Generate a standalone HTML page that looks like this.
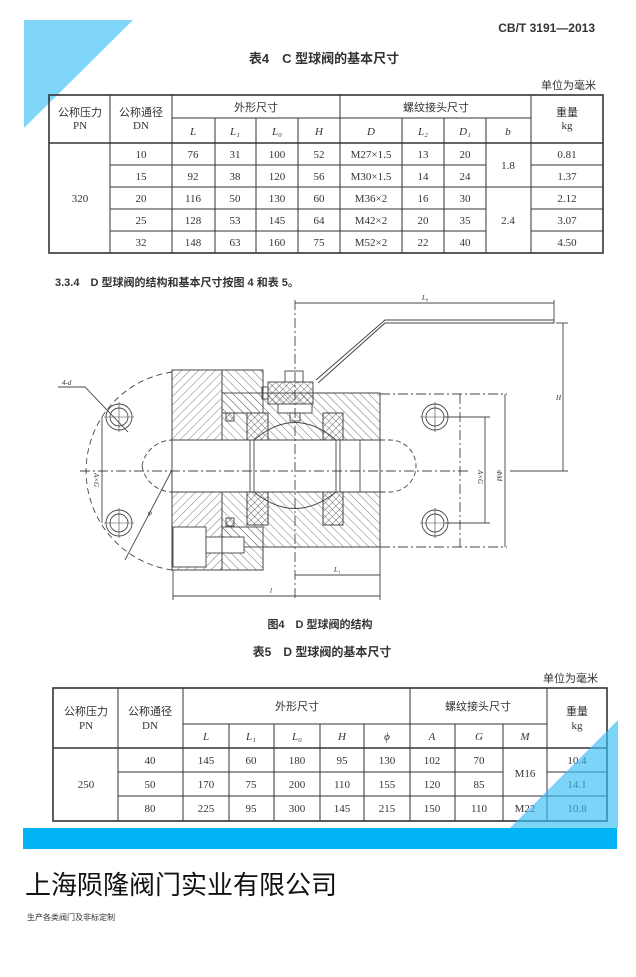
<!DOCTYPE html>
<html><head><meta charset="utf-8"><style>
html,body{margin:0;padding:0;background:#fff;}
svg{display:block}
text{font-family:"Liberation Serif","Noto Serif CJK SC",serif;fill:#333}
.c{font-family:"Liberation Sans","Noto Sans CJK SC",sans-serif}
</style></head><body>
<svg width="636" height="977" viewBox="0 0 636 977" xmlns="http://www.w3.org/2000/svg">
<defs>
<pattern id="h1" width="6" height="6" patternUnits="userSpaceOnUse" patternTransform="rotate(45)"><line x1="0" y1="0" x2="0" y2="6" stroke="#555" stroke-width="0.8"/></pattern>
<pattern id="h2" width="6" height="6" patternUnits="userSpaceOnUse" patternTransform="rotate(-45)"><line x1="0" y1="0" x2="0" y2="6" stroke="#555" stroke-width="0.8"/></pattern>
<pattern id="hx" width="5" height="5" patternUnits="userSpaceOnUse" patternTransform="rotate(45)"><path d="M0 0V5M0 0H5" stroke="#444" stroke-width="0.8"/></pattern>
</defs>
<rect width="636" height="977" fill="#fff"/>
<polygon points="24,20 133,20 24,128" fill="#7fd6f8"/>
<text x="595" y="32" font-size="12" text-anchor="end" class="c" font-weight="bold" fill="#444">CB/T 3191—2013</text>
<text x="324" y="63" font-size="13" text-anchor="middle" class="c" font-weight="bold">表4　C 型球阀的基本尺寸</text>
<text x="596" y="89" font-size="11" text-anchor="end" class="c">单位为毫米</text>
<g stroke="#333" stroke-width="1" fill="none">
<rect x="49" y="95" width="554" height="158" stroke-width="1.6"/>
<line x1="49" y1="143" x2="603" y2="143" stroke-width="1.4"/>
<line x1="172" y1="118" x2="531" y2="118"/>
<line x1="110" y1="95" x2="110" y2="253"/><line x1="172" y1="95" x2="172" y2="253"/>
<line x1="215" y1="118" x2="215" y2="253"/><line x1="256" y1="118" x2="256" y2="253"/><line x1="298" y1="118" x2="298" y2="253"/>
<line x1="340" y1="95" x2="340" y2="253"/><line x1="402" y1="118" x2="402" y2="253"/><line x1="444" y1="118" x2="444" y2="253"/><line x1="486" y1="118" x2="486" y2="253"/><line x1="531" y1="95" x2="531" y2="253"/>
<path d="M110 165H486M531 165H603M110 187H603M110 209H486M531 209H603M110 231H486M531 231H603"/>
</g>
<g font-size="11" text-anchor="middle">
<text x="80" y="116" class="c">公称压力</text><text x="80" y="129">PN</text>
<text x="141" y="116" class="c">公称通径</text><text x="141" y="129">DN</text>
<text x="256" y="111" class="c">外形尺寸</text><text x="436" y="111" class="c">螺纹接头尺寸</text>
<text x="567" y="116" class="c">重量</text><text x="567" y="129">kg</text>
<g font-style="italic"><text x="193" y="135">L</text><text x="235" y="135">L₁</text><text x="277" y="135">L₀</text><text x="319" y="135">H</text><text x="371" y="135">D</text><text x="423" y="135">L₂</text><text x="465" y="135">D₁</text><text x="508" y="135">b</text></g>
<text x="80" y="202">320</text><text x="508" y="169">1.8</text><text x="508" y="224">2.4</text>
<text x="141" y="158">10</text><text x="193" y="158">76</text><text x="235" y="158">31</text><text x="277" y="158">100</text><text x="319" y="158">52</text><text x="371" y="158">M27×1.5</text><text x="423" y="158">13</text><text x="465" y="158">20</text><text x="567" y="158">0.81</text>
<text x="141" y="180">15</text><text x="193" y="180">92</text><text x="235" y="180">38</text><text x="277" y="180">120</text><text x="319" y="180">56</text><text x="371" y="180">M30×1.5</text><text x="423" y="180">14</text><text x="465" y="180">24</text><text x="567" y="180">1.37</text>
<text x="141" y="202">20</text><text x="193" y="202">116</text><text x="235" y="202">50</text><text x="277" y="202">130</text><text x="319" y="202">60</text><text x="371" y="202">M36×2</text><text x="423" y="202">16</text><text x="465" y="202">30</text><text x="567" y="202">2.12</text>
<text x="141" y="224">25</text><text x="193" y="224">128</text><text x="235" y="224">53</text><text x="277" y="224">145</text><text x="319" y="224">64</text><text x="371" y="224">M42×2</text><text x="423" y="224">20</text><text x="465" y="224">35</text><text x="567" y="224">3.07</text>
<text x="141" y="246">32</text><text x="193" y="246">148</text><text x="235" y="246">63</text><text x="277" y="246">160</text><text x="319" y="246">75</text><text x="371" y="246">M52×2</text><text x="423" y="246">22</text><text x="465" y="246">40</text><text x="567" y="246">4.50</text>
</g>
<text x="55" y="286" font-size="11" class="c" font-weight="bold">3.3.4　D 型球阀的结构和基本尺寸按图 4 和表 5。</text>

<!-- drawing -->
<g stroke="#444" fill="none" stroke-width="0.9">
<path d="M172 372 A100 100 0 0 0 172 570" stroke-dasharray="6,4"/>
<rect x="172" y="370" width="50" height="200" fill="url(#h1)"/>
<rect x="222" y="370" width="41" height="43" fill="url(#h2)"/>
<rect x="222" y="393" width="158" height="47" fill="url(#h2)"/>
<rect x="222" y="492" width="158" height="55" fill="url(#h2)"/>
<rect x="222" y="527" width="41" height="43" fill="url(#h2)"/>
<rect x="247" y="413" width="21" height="27" fill="#fff"/><rect x="247" y="413" width="21" height="27" fill="url(#hx)"/>
<rect x="323" y="413" width="20" height="27" fill="#fff"/><rect x="323" y="413" width="20" height="27" fill="url(#hx)"/>
<rect x="247" y="492" width="21" height="33" fill="#fff"/><rect x="247" y="492" width="21" height="33" fill="url(#hx)"/>
<rect x="323" y="492" width="20" height="33" fill="#fff"/><rect x="323" y="492" width="20" height="33" fill="url(#hx)"/>
<rect x="226" y="413" width="8" height="8" fill="url(#hx)"/><rect x="226" y="518" width="8" height="8" fill="url(#hx)"/>
<rect x="172" y="440" width="208" height="52" fill="#fff"/>
<path d="M142 466 A31 31 0 0 1 172 440 M142 466 A31 31 0 0 0 172 492" stroke-dasharray="5,3"/>
<path d="M380 440 H390 A26 26 0 0 1 390 492 H380" stroke-dasharray="5,3"/>
<line x1="172" y1="440" x2="380" y2="440"/><line x1="172" y1="492" x2="380" y2="492"/>
<line x1="250" y1="440" x2="250" y2="492"/><line x1="254" y1="440" x2="254" y2="492"/>
<line x1="336" y1="440" x2="336" y2="492"/><line x1="340" y1="440" x2="340" y2="492"/>
<rect x="173" y="527" width="33" height="40" fill="#fff"/>
<rect x="206" y="537" width="38" height="16" fill="#fff"/>
<path d="M263 393 V370 H172 V570 H263 V547 H380 V393 H313 M222 370 V413 H247 M222 527 V570" stroke-width="1"/>
<rect x="264" y="360" width="48" height="32" fill="#fff" stroke="none"/>
<rect x="285" y="371" width="18" height="11"/>
<rect x="268" y="382" width="45" height="22" fill="url(#hx)"/>
<rect x="262" y="387" width="6" height="12"/>
<rect x="278" y="404" width="34" height="9" fill="#fff"/>
<rect x="290" y="413" width="10" height="8"/>
<path d="M254 440 Q295 405 336 440" />
<path d="M254 492 Q295 525 336 492" />
<path d="M318 383 L385 323 H554 V320 H385 L316 380" stroke-width="1"/>
<line x1="380" y1="394" x2="507" y2="394" stroke-dasharray="10,3,2,3"/>
<line x1="380" y1="547" x2="507" y2="547" stroke-dasharray="10,3,2,3"/>
<line x1="460" y1="394" x2="460" y2="547" stroke-dasharray="10,3,2,3"/>
<line x1="80" y1="471" x2="470" y2="471" stroke-dasharray="10,3,2,3"/>
<line x1="295" y1="300" x2="295" y2="600" stroke-dasharray="10,3,2,3"/>
<circle cx="119" cy="417" r="13"/><circle cx="119" cy="417" r="9"/>
<circle cx="119" cy="523" r="13"/><circle cx="119" cy="523" r="9"/>
<circle cx="435" cy="417" r="13"/><circle cx="435" cy="417" r="9"/>
<circle cx="435" cy="523" r="13"/><circle cx="435" cy="523" r="9"/>
<path d="M104 417H134M119 402V432M104 523H134M119 508V538M420 417H450M435 402V432M420 523H450M435 508V538" stroke-width="0.6"/>
<line x1="102" y1="417" x2="102" y2="523"/><line x1="485" y1="417" x2="485" y2="523"/><line x1="505" y1="394" x2="505" y2="547"/>
<line x1="445" y1="417" x2="490" y2="417"/><line x1="445" y1="523" x2="490" y2="523"/>
<line x1="563" y1="323" x2="563" y2="471"/><line x1="510" y1="471" x2="568" y2="471"/><line x1="556" y1="323" x2="568" y2="323"/>
<line x1="295" y1="303" x2="554" y2="303"/><line x1="554" y1="300" x2="554" y2="320"/>
<line x1="173" y1="570" x2="173" y2="600"/><line x1="380" y1="547" x2="380" y2="600"/>
<line x1="173" y1="596" x2="380" y2="596"/><line x1="295" y1="575" x2="380" y2="575"/>
<path d="M58 387 H85 L128 432"/>
<path d="M172 470 L125 560"/>
<line x1="360" y1="440" x2="360" y2="492"/>
</g>
<g font-size="7" font-style="italic" fill="#555">
<text x="62" y="385">4-d</text><text x="422" y="300">L₀</text><text x="270" y="593">l</text><text x="334" y="572">L₁</text>
<text x="148" y="515">φ</text><text x="556" y="400">H</text>
<text x="94" y="473" transform="rotate(90 94 473)">A×G</text><text x="478" y="470" transform="rotate(90 478 470)">A×G</text><text x="497" y="470" transform="rotate(90 497 470)">ΦM</text>
</g>
<text x="320" y="628" font-size="11" text-anchor="middle" class="c" font-weight="bold">图4　D 型球阀的结构</text>
<text x="322" y="656" font-size="12" text-anchor="middle" class="c" font-weight="bold">表5　D 型球阀的基本尺寸</text>
<text x="598" y="682" font-size="11" text-anchor="end" class="c">单位为毫米</text>
<g stroke="#333" stroke-width="1" fill="none">
<rect x="53" y="688" width="554" height="133" stroke-width="1.6"/>
<line x1="53" y1="748" x2="607" y2="748" stroke-width="1.4"/>
<line x1="183" y1="724" x2="547" y2="724"/>
<line x1="118" y1="688" x2="118" y2="821"/><line x1="183" y1="688" x2="183" y2="821"/>
<line x1="229" y1="724" x2="229" y2="821"/><line x1="274" y1="724" x2="274" y2="821"/><line x1="320" y1="724" x2="320" y2="821"/><line x1="364" y1="724" x2="364" y2="821"/>
<line x1="410" y1="688" x2="410" y2="821"/><line x1="455" y1="724" x2="455" y2="821"/><line x1="503" y1="724" x2="503" y2="821"/><line x1="547" y1="688" x2="547" y2="821"/>
<line x1="118" y1="772" x2="503" y2="772"/><line x1="547" y1="772" x2="607" y2="772"/>
<line x1="118" y1="796" x2="607" y2="796"/>
</g>
<g font-size="11" text-anchor="middle">
<text x="86" y="715" class="c">公称压力</text><text x="86" y="729">PN</text>
<text x="150" y="715" class="c">公称通径</text><text x="150" y="729">DN</text>
<text x="297" y="710" class="c">外形尺寸</text><text x="478" y="710" class="c">螺纹接头尺寸</text>
<text x="577" y="715" class="c">重量</text><text x="577" y="729">kg</text>
<g font-style="italic"><text x="206" y="740">L</text><text x="251" y="740">L₁</text><text x="297" y="740">L₀</text><text x="342" y="740">H</text><text x="387" y="740">ϕ</text><text x="432" y="740">A</text><text x="479" y="740">G</text><text x="525" y="740">M</text></g>
<text x="86" y="788">250</text><text x="525" y="777">M16</text>
<text x="150" y="764">40</text><text x="206" y="764">145</text><text x="251" y="764">60</text><text x="297" y="764">180</text><text x="342" y="764">95</text><text x="387" y="764">130</text><text x="432" y="764">102</text><text x="479" y="764">70</text><text x="577" y="764">10.4</text>
<text x="150" y="788">50</text><text x="206" y="788">170</text><text x="251" y="788">75</text><text x="297" y="788">200</text><text x="342" y="788">110</text><text x="387" y="788">155</text><text x="432" y="788">120</text><text x="479" y="788">85</text><text x="577" y="788">14.1</text>
<text x="150" y="812">80</text><text x="206" y="812">225</text><text x="251" y="812">95</text><text x="297" y="812">300</text><text x="342" y="812">145</text><text x="387" y="812">215</text><text x="432" y="812">150</text><text x="479" y="812">110</text><text x="525" y="812">M22</text><text x="577" y="812">10.8</text>
</g>
<polygon points="618,720 618,828 510,828" fill="#35bff5" opacity="0.65"/>
<rect x="23" y="828" width="594" height="21" fill="#00b4f5"/>
<text x="25" y="894" font-size="26" class="c" style="fill:#111">上海陨隆阀门实业有限公司</text>
<text x="27" y="920" font-size="8" class="c" style="fill:#333">生产各类阀门及非标定制</text>
</svg>
</body></html>
